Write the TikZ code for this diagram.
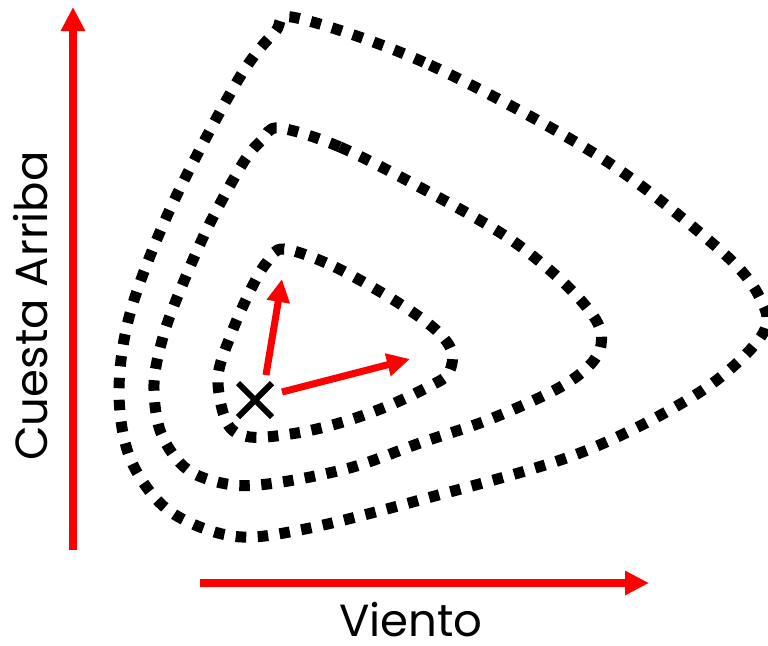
\documentclass[tikz,border=0pt]{standalone}
\usepackage{fontspec}
\setmainfont{Poppins}
\usetikzlibrary{arrows.meta,shapes.misc}
\definecolor{arrowred}{RGB}{255,0,0}
\tikzset{
  contour/.style={line width=11pt, dash pattern=on 10.5pt off 11.5pt, line cap=butt, black},
  bigarrow/.style={draw=arrowred, line width=8pt, -{Triangle[length=24pt,width=23pt]}},
  smallarrow/.style={draw=arrowred, line width=7pt, -{Triangle[length=23pt,width=22pt]}},
  axislabel/.style={inner sep=0pt, font=\fontsize{45}{48}\selectfont}
}
\begin{document}
\begin{tikzpicture}[x=1pt,y=-1pt]
\useasboundingbox (0,0) rectangle (768,645);
% contours
\draw[contour] plot[smooth cycle, tension=0.55] coordinates {
 (297,18) (430,65) (600,157) (720,250) (760,298) (762,335) (700,392) (580,453) (420,500) (300,530)
 (232,536) (168,510) (130,458) (119,390) (131,310) (172,205) (238,80) (275,32)};
\draw[contour] plot[smooth cycle, tension=0.55] coordinates {
 (279,128) (340,147) (425,190) (507,237) (563,282) (596,320) (601,345) (588,367) (555,390) (488,420)
 (420,443) (353,467) (282,482) (233,485) (188,470) (161,433) (154,384) (163,337) (179,293) (208,227)
 (243,163) (262,140)};
\draw[contour] plot[smooth cycle, tension=0.55] coordinates {
 (284,249) (335,267) (397,302) (436,330) (452,352) (448,374) (430,386) (388,406) (343,422) (297,433)
 (250,437) (227,423) (218,377) (232,332) (252,287) (267,262)};
% axes
\coordinate (vstart) at (73,550);
\coordinate (vend) at (73,7);
\coordinate (hstart) at (200,583);
\coordinate (hend) at (649,583);
\draw[bigarrow] (vstart) -- (vend);
\draw[bigarrow] (hstart) -- (hend);
\node[axislabel] (viento) at (411,620) {Viento};
\node[axislabel, rotate=90] (cuesta) at (31,306) {Cuesta Arriba};
% start point and gradient arrows
\node[cross out, draw=black, line width=6pt, minimum size=28pt, inner sep=0pt] (start) at (255,400) {};
\coordinate (upstart) at (266,375);
\coordinate (upend) at (282,279);
\coordinate (rightstart) at (282,392);
\coordinate (rightend) at (410,359);
\draw[smallarrow] (upstart) -- (upend);
\draw[smallarrow] (rightstart) -- (rightend);
\end{tikzpicture}
\end{document}
